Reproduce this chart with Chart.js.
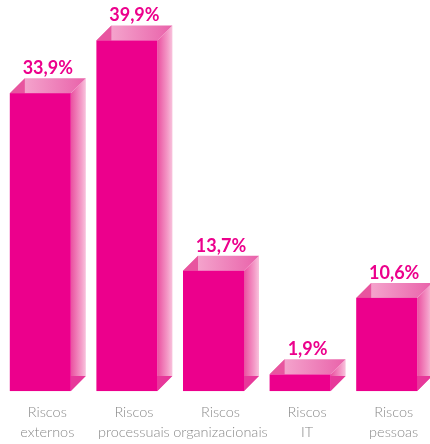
<!DOCTYPE html>
<html>
<head>
<meta charset="utf-8">
<script src="https://cdn.jsdelivr.net/npm/chart.js@4/dist/chart.umd.min.js"></script>
<style>
  html, body { margin: 0; padding: 0; background: #ffffff; overflow: hidden; }
  #c { position: absolute; left: -4px; top: 0; }
</style>
</head>
<body>
<canvas id="c" width="438" height="444" style="width:438px;height:444px"></canvas>
<script>
const categories = [
  ["Riscos", "externos"],
  ["Riscos", "processuais"],
  ["Riscos", "organizacionais"],
  ["Riscos", "IT"],
  ["Riscos", "pessoas"]
];
const values = [33.9, 39.9, 13.7, 1.9, 10.6];
const valueLabels = ["33,9%", "39,9%", "13,7%", "1,9%", "10,6%"];

const FRONT = "#EC008C";
const DEPTH = 15;

const box3d = {
  id: "box3d",
  afterDatasetsDraw(chart) {
    const ctx = chart.ctx;
    const meta = chart.getDatasetMeta(0);
    meta.data.forEach((bar, i) => {
      const p = bar.getProps(["x", "y", "base", "width"], true);
      const L = p.x - p.width / 2, R = p.x + p.width / 2;
      const top = p.y, base = p.base, d = DEPTH;
      ctx.save();
      // side face
      let g = ctx.createLinearGradient(R, 0, R + d, 0);
      g.addColorStop(0, "#EA4FA0");
      g.addColorStop(0.7, "#F49CC8");
      g.addColorStop(1, "#F8C3DD");
      ctx.fillStyle = g;
      ctx.beginPath();
      ctx.moveTo(R, top); ctx.lineTo(R + d, top - d);
      ctx.lineTo(R + d, base - d); ctx.lineTo(R, base); ctx.closePath();
      ctx.fill();
      // darker bottom triangle of side
      if (base - top > d) {
        ctx.fillStyle = "#E7389A";
        ctx.beginPath();
        ctx.moveTo(R, base - d); ctx.lineTo(R + d, base - d);
        ctx.lineTo(R, base); ctx.closePath();
        ctx.fill();
      }
      // top face
      g = ctx.createLinearGradient(L + d, 0, R + d, 0);
      g.addColorStop(0, "#F4A3CC");
      g.addColorStop(1, "#E962AA");
      ctx.fillStyle = g;
      ctx.beginPath();
      ctx.moveTo(L, top); ctx.lineTo(L + d, top - d);
      ctx.lineTo(R + d, top - d); ctx.lineTo(R, top); ctx.closePath();
      ctx.fill();
      if (base - top > d) {
        // left inner triangle
        ctx.fillStyle = "#E8559F";
        ctx.beginPath();
        ctx.moveTo(L, top); ctx.lineTo(L + d, top - d);
        ctx.lineTo(L + d, top); ctx.closePath();
        ctx.fill();
      }
      // front face
      ctx.fillStyle = FRONT;
      ctx.fillRect(L, top, R - L, base - top);
      // value label
      ctx.fillStyle = "#EC008C";
      ctx.font = "bold 18px Lato, 'Open Sans', sans-serif";
      ctx.textAlign = "center";
      ctx.textBaseline = "alphabetic";
      ctx.fillText(valueLabels[i], p.x + 7.5, top - d - 4);
      ctx.restore();
    });
  }
};

new Chart(document.getElementById("c"), {
  type: "bar",
  data: {
    labels: categories,
    datasets: [{
      data: values,
      backgroundColor: "rgba(0,0,0,0)",
      borderWidth: 0,
      barThickness: 61
    }]
  },
  options: {
    responsive: false,
    animation: false,
    events: [],
    devicePixelRatio: 1,
    layout: { padding: { left: 1, right: 4, top: 0, bottom: 2 } },
    plugins: { legend: { display: false }, tooltip: { enabled: false } },
    scales: {
      x: {
        grid: { display: false, drawTicks: false },
        border: { display: false },
        ticks: {
          color: "#8a8a8a",
          font: { family: "Lato, 'Open Sans', sans-serif", size: 14.5, weight: 300, lineHeight: "20px" },
          padding: 25,
          labelOffset: 7,
          maxRotation: 0,
          autoSkip: false
        },
        afterFit(scale) {
          scale.paddingLeft = 0;
          scale.paddingRight = 0;
          scale.height = 65;
        }
      },
      y: {
        display: false,
        min: 1.6,
        max: 44.5
      }
    }
  },
  plugins: [box3d]
});
</script>
</body>
</html>
